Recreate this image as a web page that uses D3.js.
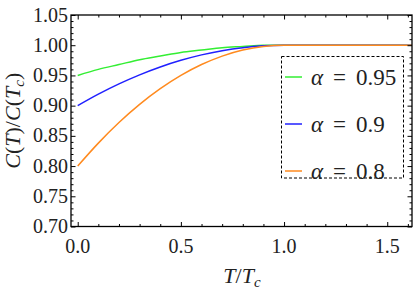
<!DOCTYPE html>
<html>
<head>
<meta charset="utf-8">
<script src="https://cdn.jsdelivr.net/npm/d3@7"></script>
<style>
  body { margin: 0; background: #fff; }
</style>
</head>
<body>
<div id="chart"></div>
<script>
// values
var tValues = [0, 0.1, 0.2, 0.3, 0.4, 0.5, 0.6, 0.7, 0.8, 0.9, 1.0, 1.62];
var alpha95 = [0.950, 0.960, 0.968, 0.976, 0.982, 0.988, 0.992, 0.996, 0.998, 1.000, 1.000, 1.000];
var alpha90 = [0.900, 0.919, 0.936, 0.951, 0.964, 0.975, 0.984, 0.991, 0.996, 0.999, 1.000, 1.000];
var alpha80 = [0.800, 0.838, 0.872, 0.902, 0.928, 0.950, 0.968, 0.982, 0.992, 0.998, 1.000, 1.000];
var seriesLabels = ["0.95", "0.9", "0.8"];
var seriesColors = ["#33ee33", "#2020ff", "#ff8a1e"];
var xTicks = [0, 0.5, 1.0, 1.5];
var yTicks = [0.70, 0.75, 0.80, 0.85, 0.90, 0.95, 1.00, 1.05];

var width = 415,
    height = 292,
    plotLeft = 71, plotRight = 412, plotTop = 15, plotBottom = 226.5;

var serif = "'Liberation Serif', serif";

var x = d3.scaleLinear().domain([-0.0325, 1.62]).range([plotLeft, plotRight]);
var y = d3.scaleLinear().domain([0.70, 1.05]).range([plotBottom, plotTop]);

var svg = d3.select("#chart").append("svg")
    .attr("width", width)
    .attr("height", height);

var series = [alpha95, alpha90, alpha80].map(function (vals, i) {
    return {
        label: seriesLabels[i],
        color: seriesColors[i],
        points: tValues.map(function (t, j) { return [t, vals[j]]; })
    };
});

var line = d3.line()
    .x(function (d) { return x(d[0]); })
    .y(function (d) { return y(d[1]); })
    .curve(d3.curveMonotoneX);

svg.append("g").selectAll("path")
    .data(series)
    .enter()
    .append("path")
    .attr("d", function (d) { return line(d.points); })
    .attr("fill", "none")
    .attr("stroke", function (d) { return d.color; })
    .attr("stroke-width", 1.5);

// minor tick values
var xMinor = d3.range(0, 17).map(function (i) { return i / 10; }).filter(function (v) { return v <= 1.62; });
var yMinor = d3.range(70, 106).map(function (i) { return i / 100; });

function isMajor(v, list) {
    return list.some(function (m) { return Math.abs(m - v) < 1e-6; });
}

// axes, ticks pointing inward
var bottomAxis = d3.axisTop(x).tickValues(xMinor)
    .tickSizeInner(0).tickSizeOuter(0).tickFormat("");
var gx = svg.append("g").attr("transform", "translate(0," + plotBottom + ")").call(bottomAxis);
gx.selectAll(".tick line").attr("y2", function (d) { return isMajor(d, xTicks) ? -4.5 : -2.5; });

var topAxis = d3.axisBottom(x).tickValues(xMinor)
    .tickSizeInner(0).tickSizeOuter(0).tickFormat("");
var gt = svg.append("g").attr("transform", "translate(0," + plotTop + ")").call(topAxis);
gt.selectAll(".tick line").attr("y2", function (d) { return isMajor(d, xTicks) ? 4.5 : 2.5; });

var leftAxis = d3.axisRight(y).tickValues(yMinor)
    .tickSizeInner(0).tickSizeOuter(0).tickFormat("");
var gy = svg.append("g").attr("transform", "translate(" + plotLeft + ",0)").call(leftAxis);
gy.selectAll(".tick line").attr("x2", function (d) { return isMajor(d, yTicks) ? 4.5 : 2.5; });

var rightAxis = d3.axisLeft(y).tickValues(yMinor)
    .tickSizeInner(0).tickSizeOuter(0).tickFormat("");
var gr = svg.append("g").attr("transform", "translate(" + plotRight + ",0)").call(rightAxis);
gr.selectAll(".tick line").attr("x2", function (d) { return isMajor(d, yTicks) ? -4.5 : -2.5; });

svg.selectAll(".domain").remove();
svg.selectAll(".tick line").attr("stroke", "#000").attr("stroke-width", 1);

// frame
svg.append("rect")
    .attr("x", plotLeft).attr("y", plotTop)
    .attr("width", plotRight - plotLeft).attr("height", plotBottom - plotTop)
    .attr("fill", "none").attr("stroke", "#000").attr("stroke-width", 1.3);

// tick labels
svg.append("g").selectAll("text")
    .data(xTicks)
    .enter()
    .append("text")
    .attr("x", function (d) { return x(d); })
    .attr("y", 253)
    .attr("text-anchor", "middle")
    .attr("font-family", serif)
    .attr("font-size", 20)
    .attr("fill", "#222")
    .text(function (d) { return d3.format(".1f")(d); });

svg.append("g").selectAll("text")
    .data(yTicks)
    .enter()
    .append("text")
    .attr("x", 68)
    .attr("y", function (d) { return y(d) + 6.5; })
    .attr("text-anchor", "end")
    .attr("font-family", serif)
    .attr("font-size", 20)
    .attr("fill", "#222")
    .text(function (d) { return d3.format(".2f")(d); });

// axis titles
var xt = svg.append("text")
    .attr("x", 242).attr("y", 283)
    .attr("text-anchor", "middle")
    .attr("font-family", serif)
    .attr("font-size", 22)
    .attr("fill", "#222");
xt.append("tspan").style("font-style", "italic").text("T");
xt.append("tspan").text("/");
xt.append("tspan").style("font-style", "italic").text("T");
xt.append("tspan").style("font-style", "italic").attr("font-size", 15).attr("dy", 4).text("c");

var yt = svg.append("text")
    .attr("transform", "translate(20," + ((plotTop + plotBottom) / 2) + ") rotate(-90)")
    .attr("text-anchor", "middle")
    .attr("font-family", serif)
    .attr("font-size", 22)
    .attr("fill", "#222");
yt.append("tspan").style("font-style", "italic").text("C");
yt.append("tspan").text("(");
yt.append("tspan").style("font-style", "italic").text("T");
yt.append("tspan").text(")/");
yt.append("tspan").style("font-style", "italic").text("C");
yt.append("tspan").text("(");
yt.append("tspan").style("font-style", "italic").text("T");
yt.append("tspan").style("font-style", "italic").attr("font-size", 15).attr("dy", 4).text("c");
yt.append("tspan").attr("dy", -4).text(")");

// legend
svg.append("rect")
    .attr("x", 281.5).attr("y", 56.5)
    .attr("width", 122).attr("height", 121.5)
    .attr("fill", "#fff")
    .attr("stroke", "#000")
    .attr("stroke-width", 1)
    .attr("stroke-dasharray", "3,2");

var legendY = [77, 124, 171];
var items = svg.append("g").selectAll("g")
    .data(series)
    .enter()
    .append("g")
    .attr("transform", function (d, i) { return "translate(0," + legendY[i] + ")"; });

items.append("line")
    .attr("x1", 285).attr("x2", 302)
    .attr("stroke", function (d) { return d.color; })
    .attr("stroke-width", 1.5);

var lt = items.append("text")
    .attr("x", 311)
    .attr("y", 7.5)
    .attr("font-family", serif)
    .attr("font-size", 23)
    .attr("fill", "#222");
lt.append("tspan").style("font-style", "italic").text("α");
lt.append("tspan").attr("dx", 10).text("=");
lt.append("tspan").attr("dx", 10).text(function (d) { return d.label; });
</script>
</body>
</html>
